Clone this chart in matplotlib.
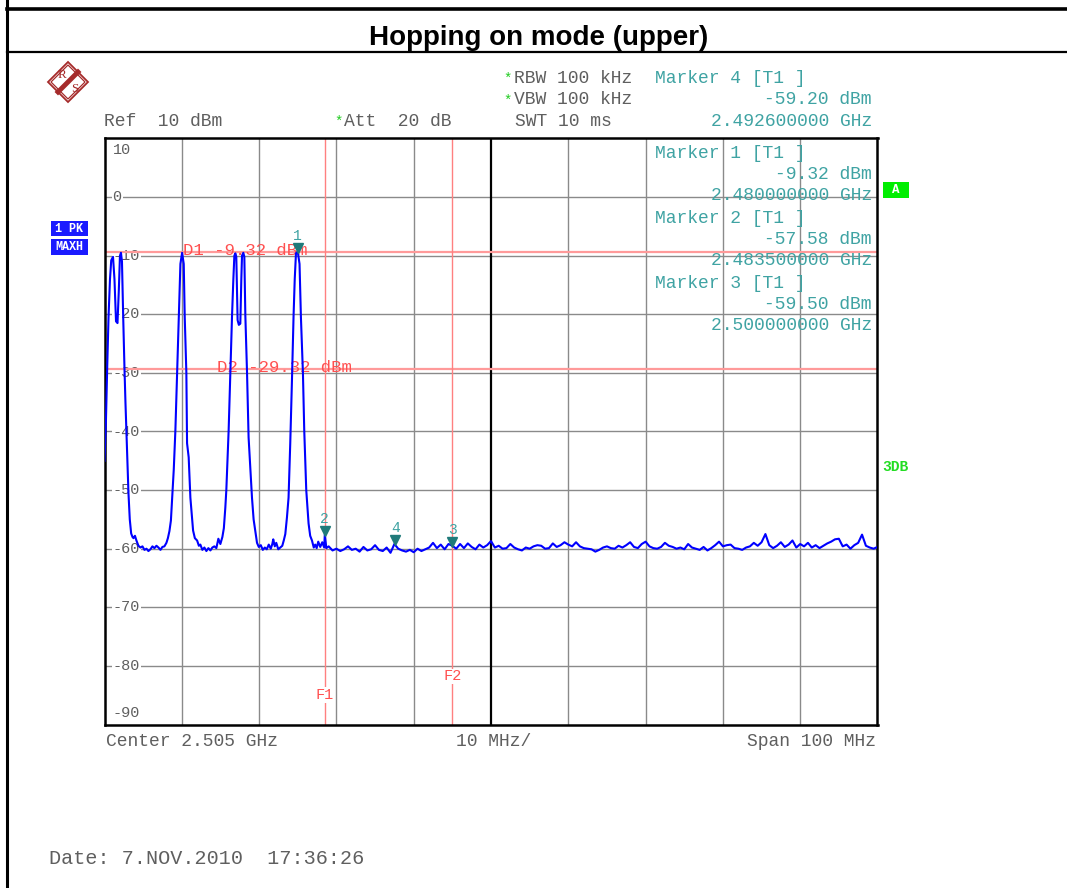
import numpy as np
import matplotlib
matplotlib.use("Agg")
import matplotlib.pyplot as plt
from matplotlib import transforms
from matplotlib.patches import Polygon, Rectangle

W, H = 1067, 888

# sweep settings
start_ghz = 2.455
stop_ghz = 2.555
ref_level = 10
bottom_level = -90

# trace around the hopping channels: offset from start (MHz), level (dBm)
peak_off = [0.00, 0.19, 0.35, 0.52, 0.71, 0.87, 1.10, 1.29, 1.49, 1.68,
            1.85, 2.00, 2.13, 2.26, 2.42, 2.58, 2.71, 2.84, 2.97, 3.10,
            3.27, 3.45, 3.62, 3.75, 3.94, 4.13, 4.39, 4.65, 4.91, 5.17,
            5.43, 5.68, 5.94, 6.20, 6.46, 6.72, 6.98, 7.24, 7.49, 7.75,
            8.01, 8.20, 8.40, 8.59, 8.79, 8.96, 9.17, 9.39, 9.60, 9.82,
            10.04, 10.25, 10.38, 10.59, 10.68, 10.89, 11.11, 11.46, 11.69, 11.98,
            12.21, 12.40, 12.66, 12.92, 13.18, 13.44, 13.70, 13.95, 14.21, 14.47,
            14.73, 14.99, 15.25, 15.44, 15.63, 15.76, 15.93, 16.06, 16.28, 16.50,
            16.67, 16.80, 16.93, 17.05, 17.22, 17.38, 17.57, 17.70, 17.79, 17.96,
            18.09, 18.22, 18.44, 18.64, 18.86, 19.08, 19.29, 19.51, 19.73, 19.96,
            20.22, 20.48, 20.74, 20.99, 21.25, 21.51, 21.71, 21.83, 22.03, 22.22,
            22.48, 22.74, 23.00, 23.19, 23.39, 23.60, 23.81, 24.03, 24.25, 24.46,
            24.61, 24.77, 25.00, 25.23, 25.41, 25.67, 25.84, 26.10, 26.40, 26.61,
            26.84, 27.07, 27.26, 27.45, 27.65, 27.91, 28.17, 28.42, 28.50, 28.70]
peak_lvl = [-45.0, -38.0, -29.0, -20.5, -14.0, -10.8, -10.2, -14.0, -21.2, -21.5,
            -16.0, -10.0, -9.5, -11.0, -20.5, -29.0, -35.0, -40.0, -45.0, -50.5,
            -55.0, -57.4, -58.0, -58.2, -57.8, -58.6, -59.5, -59.8, -59.6, -60.2,
            -60.0, -60.4, -60.1, -59.6, -59.9, -59.5, -59.8, -60.2, -59.7, -59.6,
            -59.0, -58.2, -57.0, -55.2, -50.5, -46.5, -39.8, -30.1, -20.5, -11.4,
            -9.5, -11.4, -20.5, -30.0, -42.0, -44.4, -51.3, -56.9, -58.2, -58.6,
            -59.5, -59.3, -60.2, -59.8, -60.4, -59.9, -60.3, -59.8, -59.6, -59.9,
            -58.3, -59.2, -58.0, -56.5, -53.0, -50.0, -44.0, -39.8, -30.0, -20.2,
            -14.0, -10.0, -9.6, -10.2, -21.0, -21.8, -21.6, -14.0, -10.0, -9.5,
            -10.2, -20.2, -30.0, -41.0, -46.0, -51.3, -55.0, -57.0, -59.0, -59.7,
            -59.4, -60.2, -59.8, -60.1, -59.3, -60.0, -59.2, -58.4, -59.6, -59.0,
            -60.1, -59.8, -59.5, -58.6, -57.5, -54.7, -51.3, -42.0, -31.3, -20.2,
            -14.0, -9.6, -9.32, -11.4, -20.5, -30.0, -39.8, -50.0, -55.7, -57.8,
            -58.6, -59.8, -59.3, -59.9, -58.8, -59.7, -58.9, -59.8, -57.58, -59.9]

# noise floor, every 0.5 MHz from 29.0 to 100.0 MHz offset
floor_lvl = [-59.6, -60.3, -60.0, -60.4, -60.1, -59.6, -60.2, -60.0, -60.5, -59.7,
             -60.3, -60.1, -59.4, -60.2, -60.4, -59.8, -60.7, -59.2, -60.0, -60.3,
             -60.5, -60.2, -60.6, -60.0, -60.4, -60.1, -59.8, -59.0, -59.9, -59.3,
             -60.1, -59.2, -59.5, -60.0, -59.2, -59.9, -59.1, -59.7, -60.1, -59.3,
             -59.8, -59.4, -58.7, -59.8, -59.5, -60.0, -59.9, -59.2, -59.8, -60.1,
             -60.3, -59.8, -60.0, -59.6, -59.4, -59.5, -60.0, -59.9, -59.1, -59.7,
             -59.4, -58.9, -59.3, -59.6, -58.9, -59.6, -59.9, -60.0, -60.1, -60.5,
             -60.2, -59.8, -59.6, -59.9, -60.0, -59.5, -59.8, -59.4, -58.9, -59.7,
             -59.9, -59.2, -58.8, -59.6, -59.9, -60.0, -59.7, -59.0, -59.5, -59.7,
             -60.0, -59.8, -60.1, -59.2, -59.8, -60.0, -60.2, -59.7, -60.3, -59.9,
             -59.4, -58.8, -59.6, -59.4, -59.3, -59.9, -60.0, -60.2, -59.8, -59.6,
             -59.0, -59.5, -58.9, -57.5, -59.4, -59.9, -59.5, -58.9, -59.7, -59.3,
             -58.6, -59.8, -59.2, -59.6, -59.0, -59.8, -59.4, -59.9, -59.5, -59.1,
             -58.8, -58.4, -58.3, -59.6, -59.3, -60.0, -59.4, -59.0, -57.6, -59.5,
             -59.8, -60.0, -59.7]
floor_off = np.arange(29.0, 100.25, 0.5)

# markers
marker_num = ["1", "2", "3", "4"]
marker_freq = [2.480, 2.4835, 2.500, 2.4926]
marker_lvl = [-9.32, -57.58, -59.50, -59.20]

# display lines
d_names = ["D1", "D2"]
d_lvl = [-9.32, -29.32]
f_names = ["F1", "F2"]
f_freq = [2.4835, 2.500]

ytick_vals = [10, 0, -10, -20, -30, -40, -50, -60, -70, -80, -90]

freq = start_ghz + np.concatenate([peak_off, floor_off]) / 1000.0
level = np.concatenate([peak_lvl, floor_lvl])

GRAY = "#5f5f5f"
TEAL = "#3fa3a3"
MARK = "#1f7a7a"
RED = "#ff5050"
MONO = "Liberation Mono"


def fx(x):
    return x / W


def fy(y):
    return 1 - y / H


fig = plt.figure(figsize=(W / 100, H / 100), dpi=100)
fig.patch.set_facecolor("white")

def ftext(x, y, s, **kw):
    kw.setdefault("family", MONO)
    kw.setdefault("fontsize", 13)
    kw.setdefault("color", GRAY)
    kw.setdefault("va", "baseline")
    fig.text(fx(x), fy(y), s, **kw)

# page frame
fig.add_artist(plt.Line2D([fx(7), fx(7)], [0, 1], color="black", lw=2.2))
fig.add_artist(plt.Line2D([fx(7), 1], [fy(9), fy(9)], color="black", lw=2.6))
fig.add_artist(plt.Line2D([fx(7), 1], [fy(52.5), fy(52.5)], color="black", lw=1.6))
fig.text(fx(539), fy(45), "Hopping on mode (upper)", ha="center", va="baseline",
         family="Liberation Sans", fontweight="bold", fontsize=20)

# R&S logo
cx, cy, r = 68, 82, 20
for rr, lw in [(r, 1.3), (r - 3, 0.9)]:
    fig.add_artist(Polygon([(fx(cx), fy(cy - rr)), (fx(cx + rr), fy(cy)),
                            (fx(cx), fy(cy + rr)), (fx(cx - rr), fy(cy))],
                           closed=True, fill=False, edgecolor="#a52a2a", lw=lw,
                           transform=fig.transFigure))
fig.add_artist(plt.Line2D([fx(78), fx(58)], [fy(72), fy(92)], color="#a52a2a", lw=3.5))
fig.text(fx(61.5), fy(75.5), "R", color="#a52a2a", fontsize=9.5, family="Liberation Serif",
         ha="center", va="center")
fig.text(fx(74.5), fy(89), "S", color="#a52a2a", fontsize=9.5, family="Liberation Serif",
         ha="center", va="center")

# header text
ftext(503, 83, "*", color="#22cc22", fontsize=10)
ftext(514, 83, "RBW 100 kHz")
ftext(503, 104.5, "*", color="#22cc22", fontsize=10)
ftext(514, 104.5, "VBW 100 kHz")
ftext(104, 126, "Ref  10 dBm")
ftext(334, 126, "*", color="#22cc22", fontsize=10)
ftext(344, 126, "Att  20 dB")
ftext(515, 126, "SWT 10 ms")
ftext(655, 83, "Marker 4 [T1 ]", color=TEAL)
ftext(872, 104.5, "%.2f dBm" % marker_lvl[3], color=TEAL, ha="right")
ftext(872, 126, "%.9f GHz" % marker_freq[3], color=TEAL, ha="right")

# marker table inside the screen
for k, base in zip([0, 1, 2], [158, 223, 288]):
    ftext(655, base, "Marker %s [T1 ]" % marker_num[k], color=TEAL, zorder=5)
    ftext(872, base + 21, "%.2f dBm" % marker_lvl[k], color=TEAL, ha="right", zorder=5)
    ftext(872, base + 42, "%.9f GHz" % marker_freq[k], color=TEAL, ha="right", zorder=5)

# bottom text
ftext(106, 746, "Center 2.505 GHz")
ftext(456, 746, "10 MHz/")
ftext(876, 746, "Span 100 MHz", ha="right")
ftext(49, 864, "Date: 7.NOV.2010  17:36:26", fontsize=14.5)

# side labels
for (y0, y1, s) in [(221, 236, "1 PK"), (239, 255, "MAXH")]:
    fig.add_artist(Rectangle((fx(50.5), fy(y1)), (87.5 - 50.5) / W, (y1 - y0) / H,
                             transform=fig.transFigure, facecolor="#1a1aff", edgecolor="none"))
    fig.text(fx(69), fy((y0 + y1) / 2), s, color="white", family=MONO, fontweight="bold",
             fontsize=8.5, ha="center", va="center")
fig.add_artist(Rectangle((fx(883), fy(198)), 26 / W, 16 / H, transform=fig.transFigure,
                         facecolor="#00ee00", edgecolor="none"))
fig.text(fx(896), fy(190), "A", color="white", family=MONO, fontweight="bold",
         fontsize=9, ha="center", va="center")
fig.text(fx(882), fy(467), "3DB", color="#22dd22", family=MONO, fontweight="bold",
         fontsize=10.5, ha="left", va="center")

# screen
ax = fig.add_axes([fx(104.5), fy(724.5), (877.5 - 104.5) / W, (724.5 - 138.5) / H])
ax.set_xlim(start_ghz, stop_ghz)
ax.set_ylim(bottom_level, ref_level)
ax.set_xticks([])
ax.set_yticks([])
for sp in ax.spines.values():
    sp.set_linewidth(1.8)
    sp.set_color("black")
ax.set_zorder(3)
ax.patch.set_alpha(0)

for v in ytick_vals[1:-1]:
    ax.axhline(v, color="#8a8a8a", lw=1.0, zorder=1)
step = (stop_ghz - start_ghz) / 10
for i in range(1, 10):
    xv = start_ghz + i * step
    if i == 5:
        ax.axvline(xv, color="black", lw=1.6, zorder=1)
    else:
        ax.axvline(xv, color="#8a8a8a", lw=1.0, zorder=1)

ylab_tr = transforms.blended_transform_factory(ax.transAxes, ax.transData)
for v in ytick_vals:
    yp = v
    if v == ref_level:
        yp = v - 2
    elif v == bottom_level:
        yp = v + 2
    ax.text(0.0105, yp, str(v), transform=ylab_tr, family=MONO, fontsize=11,
            color=GRAY, ha="left", va="center", zorder=2,
            bbox=dict(boxstyle="square,pad=0.05", facecolor="white", edgecolor="none"))

# display lines
for v in d_lvl:
    ax.axhline(v, color="#ff9a9a", lw=1.6, zorder=2)
for name, v, xpx in zip(d_names, d_lvl, [183, 217]):
    ax.text((xpx - 104.5) / 773, v - 0.55, "%s %.2f dBm" % (name, v),
            transform=ylab_tr, family=MONO, fontsize=12.5, color=RED,
            ha="left", va="baseline", zorder=4)
for name, fv, yl in zip(f_names, f_freq, [-85.0, -81.8]):
    ax.axvline(fv, color="#ff8080", lw=1.0, zorder=2)
    ax.text(fv, yl, name, family=MONO, fontsize=11, color=RED, ha="center",
            va="center", zorder=4,
            bbox=dict(boxstyle="square,pad=0.05", facecolor="white", edgecolor="none"))

# trace
ax.plot(freq, level, color="#0000ff", lw=1.5, zorder=5, clip_on=True)

# markers
tri_tr = transforms.offset_copy(ax.transData, fig=fig, x=0, y=4, units="dots")
num_tr = transforms.offset_copy(ax.transData, fig=fig, x=0, y=16, units="dots")
for n, fv, lv in zip(marker_num, marker_freq, marker_lvl):
    ax.plot([fv], [lv], marker="v", markersize=7.5, color=MARK, transform=tri_tr, zorder=6)
    ax.text(fv, lv, n, transform=num_tr, family=MONO, fontsize=10.5, color=TEAL,
            ha="center", va="center", zorder=6)

fig.savefig("out.png", dpi=100, facecolor="white")
